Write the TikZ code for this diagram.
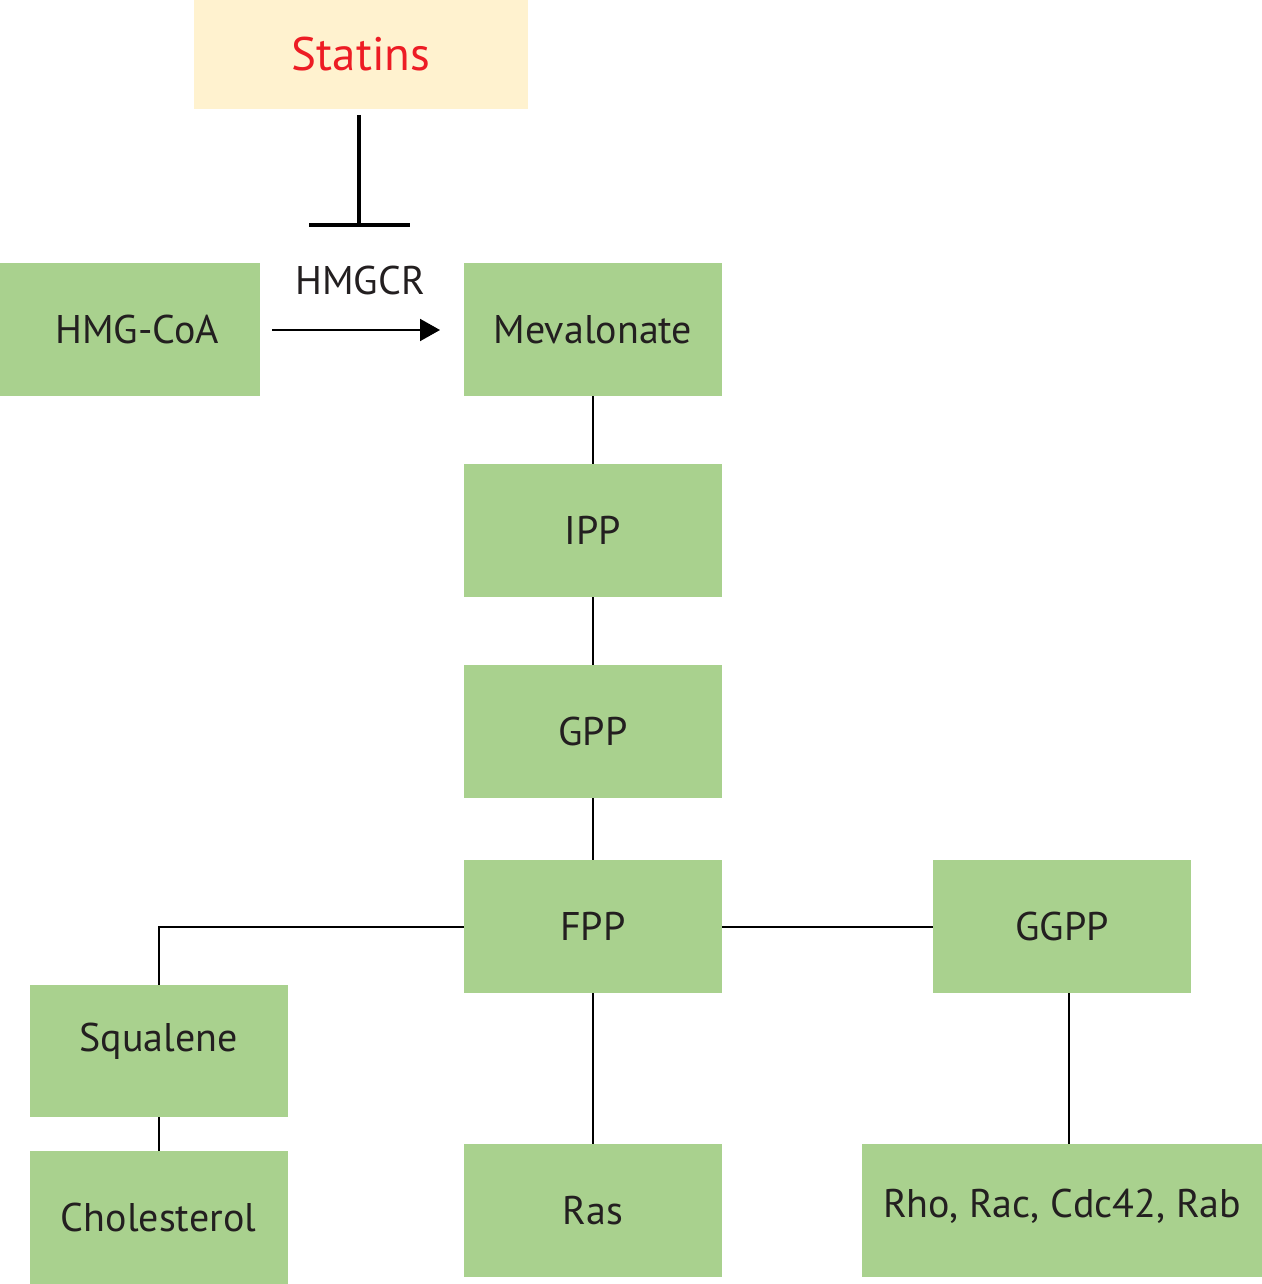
\documentclass[tikz,border=0pt]{standalone}
\usepackage{fontspec}
\setmainfont{PT Sans}
\usetikzlibrary{arrows.meta}
\definecolor{boxgreen}{HTML}{A9D18E}
\definecolor{cream}{HTML}{FFF2CF}
\definecolor{statred}{HTML}{ED1C24}
\definecolor{txt}{HTML}{231F20}
\tikzset{
  box/.style={fill=boxgreen, minimum width=129pt, minimum height=66.5pt, inner sep=0pt,
    font=\fontsize{20}{24}\selectfont, text=txt},
  boxlabel/.style={font=\fontsize{20}{24}\selectfont, text=txt, inner sep=0pt},
  conn/.style={draw=black, line width=1pt},
}
\begin{document}
\begin{tikzpicture}[x=0.5pt,y=-0.5pt]
\useasboundingbox (0,0) rectangle (1262,1284);
\node[box, fill=cream, minimum width=167pt, minimum height=54.5pt, text=statred,
  font=\fontsize{23.5}{28}\selectfont] (statins) at (361,54.5) {Statins};
\node[box, minimum width=130pt] (hmg) at (130,329.5) {\hspace*{7pt}HMG-CoA};
\node[box] (mev) at (593,329.5) {Mevalonate};
\node[box] (ipp) at (593,530.5) {IPP};
\node[box] (gpp) at (593,731.5) {GPP};
\node[box] (fpp) at (593,926.5) {FPP};
\node[box] (ggpp) at (1062,926.5) {GGPP};
\node[box, minimum height=66pt, label={[boxlabel, yshift=5pt]center:Squalene}] (squ) at (158.5,1051) {};
\node[box] (chol) at (158.5,1217.5) {Cholesterol};
\node[box] (ras) at (593,1210.5) {Ras};
\node[box, minimum width=200pt, label={[boxlabel, yshift=2pt]center:{Rho, Rac, Cdc42, Rab}}] (rho) at (1062,1210.5) {};
\node[text=txt, font=\fontsize{20}{24}\selectfont, inner sep=0pt] (hmgcr) at (360,280) {HMGCR};
% reaction arrow
\coordinate (a1) at (272,330);
\coordinate (a2) at (440,330);
\draw[conn, -{Triangle[length=10pt,width=11pt]}] (a1) -- (a2);
% inhibition
\coordinate (s1) at (359,115);
\coordinate (s2) at (359,225);
\coordinate (b1) at (309,225);
\coordinate (b2) at (410,225);
\draw[line width=2pt] (s1) -- (s2);
\draw[line width=2pt] (b1) -- (b2);
% connectors
\draw[conn] (mev) -- (ipp);
\draw[conn] (ipp) -- (gpp);
\draw[conn] (gpp) -- (fpp);
\draw[conn] (fpp) -- (ggpp);
\draw[conn] (fpp) -- (ras);
\draw[conn] (fpp.west) -| (squ.north);
\draw[conn] (squ) -- (chol);
\draw[conn] ([xshift=3.5pt]ggpp.south) -- ([xshift=3.5pt]ggpp.south |- rho.north);
\end{tikzpicture}
\end{document}
